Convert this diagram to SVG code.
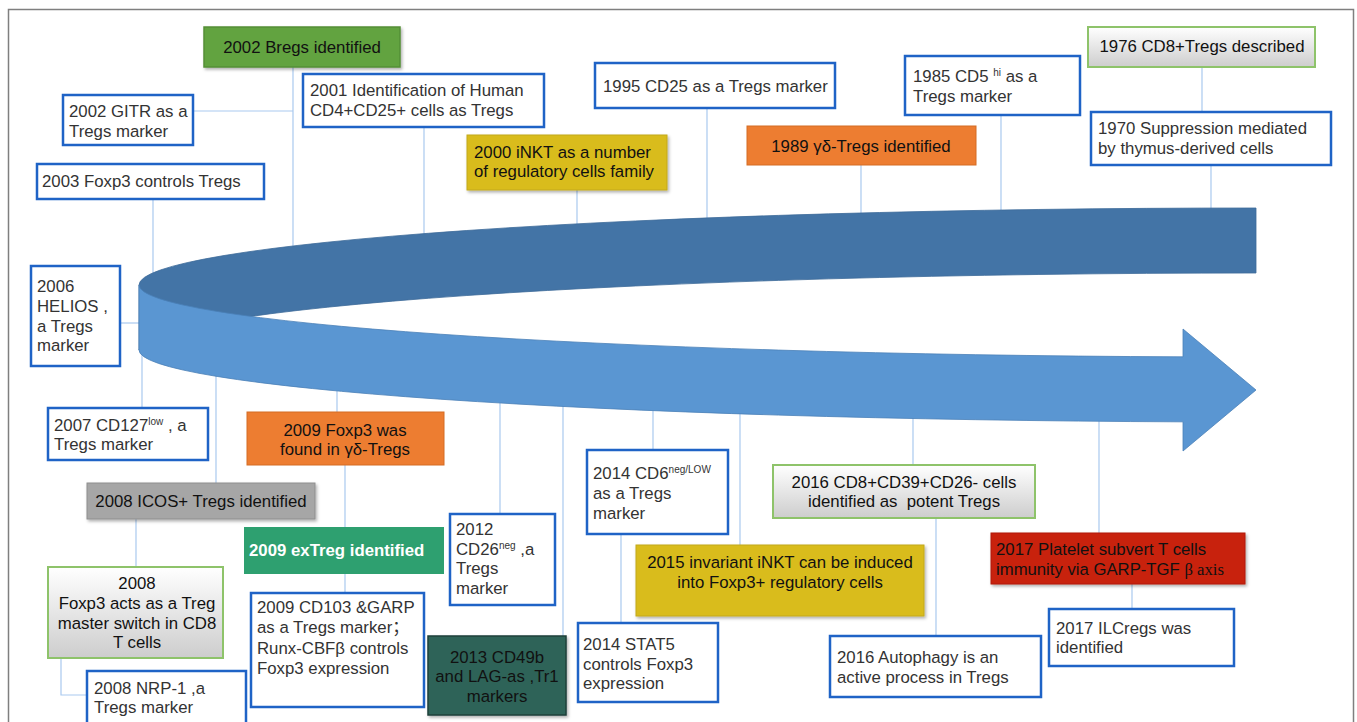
<svg xmlns="http://www.w3.org/2000/svg" width="1357" height="722" viewBox="0 0 1357 722">
<defs>
<style>
.t{font-family:"Liberation Sans",Arial,"Noto Sans CJK SC",sans-serif;font-size:16.8px;fill:#333}
.k{fill:#111}
.w{fill:#fff;font-weight:bold}
.c{text-anchor:middle}
.box{fill:#fff;stroke:#1f63c6;stroke-width:2.5}
.gbox{fill:url(#gg);stroke:#8ec36a;stroke-width:2}
.conn{stroke:#a9c9ef;stroke-width:1.2;fill:none}
.sh{filter:url(#ds)}
</style>
<linearGradient id="gg" x1="0" y1="0" x2="0" y2="1">
<stop offset="0" stop-color="#ffffff"/>
<stop offset="1" stop-color="#cdcdcd"/>
</linearGradient>
<filter id="ds" x="-10%" y="-10%" width="120%" height="130%">
<feDropShadow dx="1.5" dy="2" stdDeviation="1.5" flood-color="#000" flood-opacity="0.3"/>
</filter>
</defs>
<rect x="8.5" y="9.5" width="1345" height="730" fill="#fff" stroke="#7f7f7f" stroke-width="1.5"/>

<g id="connectors">
<path class="conn" d="M293,67 V250"/>
<path class="conn" d="M194,111 H293"/>
<path class="conn" d="M153,199 V278"/>
<path class="conn" d="M424,127 V240"/>
<path class="conn" d="M577,190 V230"/>
<path class="conn" d="M707,108 V224"/>
<path class="conn" d="M861,165 V219"/>
<path class="conn" d="M1001,116 V216"/>
<path class="conn" d="M1202,67 V112"/>
<path class="conn" d="M1211,165 V215"/>
<path class="conn" d="M120,323 H145"/>
<path class="conn" d="M142,349 V407"/>
<path class="conn" d="M216,370 V483"/>
<path class="conn" d="M136,519 V567"/>
<path class="conn" d="M61,658 V695 H87"/>
<path class="conn" d="M337,385 V412"/>
<path class="conn" d="M345,465 V527"/>
<path class="conn" d="M345,574 V592"/>
<path class="conn" d="M500,397 V513"/>
<path class="conn" d="M563,400 V636"/>
<path class="conn" d="M653,405 V449"/>
<path class="conn" d="M621,534 V622"/>
<path class="conn" d="M740,408 V545"/>
<path class="conn" d="M913,412 V465"/>
<path class="conn" d="M936,518 V636"/>
<path class="conn" d="M1099,415 V533"/>
<path class="conn" d="M1132,584 V608"/>
</g>

<g id="ribbon">
<path d="M139,285 A1117,77 0 0 1 1256,208 L1256,273 A1117,77 0 0 0 139,350 Z" fill="#4374a6" stroke="#3d6b99" stroke-width="0.8"/>
<path d="M139,285 A1117,72 0 0 0 1183,356.85 L1183,329 L1256,390 L1183,451 L1183,421.85 A1117,72 0 0 1 139,350 Z" fill="#5a96d2" stroke="#4a80b8" stroke-width="0.8"/>
</g>

<g id="n2002bregs">
<rect x="204" y="27" width="196" height="40" fill="#62a33f" stroke="#558f36" stroke-width="1.5" class="sh"/>
<text class="t k c" x="302" y="53">2002 Bregs identified</text>
</g>

<g id="n2002gitr">
<rect class="box" x="63" y="95" width="130" height="50"/>
<text class="t" x="69" y="117">2002 GITR as a</text>
<text class="t" x="69" y="137">Tregs marker</text>
</g>

<g id="n2003foxp3">
<rect class="box" x="37" y="164" width="227" height="35"/>
<text class="t" x="42" y="187">2003 Foxp3 controls Tregs</text>
</g>

<g id="n2001">
<rect class="box" x="303" y="74" width="241" height="53"/>
<text class="t" x="310" y="96">2001 Identification of Human</text>
<text class="t" x="310" y="116">CD4+CD25+ cells as Tregs</text>
</g>

<g id="n2000inkt">
<rect x="467" y="135" width="200" height="55" fill="#d9bc1f" stroke="#c2a81a" stroke-width="1" class="sh"/>
<text class="t k" x="474" y="158">2000 iNKT as a number</text>
<text class="t k" x="474" y="177">of regulatory cells family</text>
</g>

<g id="n1995">
<rect class="box" x="595" y="63" width="240" height="45"/>
<text class="t" x="603" y="92">1995 CD25 as a Tregs marker</text>
</g>

<g id="n1989">
<rect x="747" y="126" width="229" height="39" fill="#ed7d31" stroke="#d46c25" stroke-width="1"/>
<text class="t k c" x="861" y="152">1989 γδ-Tregs identified</text>
</g>

<g id="n1985">
<rect class="box" x="905" y="56" width="175" height="59"/>
<text class="t" x="913" y="82">1985 CD5 <tspan font-size="10" dy="-6">hi</tspan><tspan dy="6"> as a</tspan></text>
<text class="t" x="913" y="102">Tregs marker</text>
</g>

<g id="n1976">
<rect class="gbox" x="1088" y="27" width="227" height="40"/>
<text class="t k c" x="1202" y="52">1976 CD8+Tregs described</text>
</g>

<g id="n1970">
<rect class="box" x="1091" y="112" width="240" height="53"/>
<text class="t" x="1098" y="134">1970 Suppression mediated</text>
<text class="t" x="1098" y="154">by thymus-derived cells</text>
</g>

<g id="n2006helios">
<rect class="box" x="31" y="266" width="89" height="100"/>
<text class="t" x="37" y="292">2006</text>
<text class="t" x="37" y="312">HELIOS ,</text>
<text class="t" x="37" y="332">a Tregs</text>
<text class="t" x="37" y="351">marker</text>
</g>

<g id="n2007cd127">
<rect class="box" x="48" y="408" width="160" height="52"/>
<text class="t" x="54" y="431">2007 CD127<tspan font-size="10" dy="-6">low</tspan><tspan dy="6"> , a</tspan></text>
<text class="t" x="54" y="450">Tregs marker</text>
</g>

<g id="n2008icos">
<rect x="87" y="483" width="228" height="36" fill="#a6a6a6" stroke="#8e8e8e" stroke-width="1" class="sh"/>
<text class="t k c" x="201" y="507">2008 ICOS+ Tregs identified</text>
</g>

<g id="n2008foxp3cd8">
<rect class="gbox" x="48" y="567" width="175" height="91"/>
<text class="t k c" x="137" y="589">2008</text>
<text class="t k c" x="137" y="609">Foxp3 acts as a Treg</text>
<text class="t k c" x="137" y="629">master switch in CD8</text>
<text class="t k c" x="137" y="648">T cells</text>
</g>

<g id="n2008nrp1">
<rect class="box" x="87" y="671" width="159" height="60"/>
<text class="t" x="94" y="694">2008 NRP-1 ,a</text>
<text class="t" x="94" y="713">Tregs marker</text>
</g>

<g id="n2009foxp3gd">
<rect x="247" y="412" width="197" height="53" fill="#ed7d31" stroke="#d46c25" stroke-width="1"/>
<text class="t k c" x="345" y="436">2009 Foxp3 was</text>
<text class="t k c" x="345" y="455">found in γδ-Tregs</text>
</g>

<g id="n2009extreg">
<rect x="244" y="527" width="200" height="47" fill="#2ea070"/>
<text class="t w" x="249" y="556">2009 exTreg identified</text>
</g>

<g id="n2009cd103">
<rect class="box" x="251" y="593" width="173" height="114"/>
<text class="t" x="257" y="613">2009 CD103 &amp;GARP</text>
<text class="t" x="257" y="633">as a Tregs marker；</text>
<text class="t" x="257" y="654">Runx-CBFβ controls</text>
<text class="t" x="257" y="674">Foxp3 expression</text>
</g>

<g id="n2012cd26">
<rect class="box" x="450" y="514" width="105" height="91"/>
<text class="t" x="456" y="535">2012</text>
<text class="t" x="456" y="555">CD26<tspan font-size="10" dy="-6">neg</tspan><tspan dy="6"> ,a</tspan></text>
<text class="t" x="456" y="574">Tregs</text>
<text class="t" x="456" y="594">marker</text>
</g>

<g id="n2013cd49b">
<rect x="428" y="636" width="138" height="79" fill="#2f6459" stroke="#1e3f38" stroke-width="1.5" class="sh"/>
<text class="t k c" x="497" y="663">2013 CD49b</text>
<text class="t k c" x="497" y="682">and LAG-as ,Tr1</text>
<text class="t k c" x="497" y="702">markers</text>
</g>

<g id="n2014cd6">
<rect class="box" x="587" y="450" width="141" height="84"/>
<text class="t" x="593" y="479">2014 CD6<tspan font-size="10" dy="-6">neg/LOW</tspan></text>
<text class="t" x="593" y="499">as a Tregs</text>
<text class="t" x="593" y="519">marker</text>
</g>

<g id="n2014stat5">
<rect class="box" x="578" y="623" width="140" height="79"/>
<text class="t" x="583" y="650">2014 STAT5</text>
<text class="t" x="583" y="670">controls Foxp3</text>
<text class="t" x="583" y="689">expression</text>
</g>

<g id="n2015inkt">
<rect x="636" y="545" width="288" height="71" fill="#d9bc1f" stroke="#c2a81a" stroke-width="1" class="sh"/>
<text class="t k c" x="780" y="568">2015 invariant iNKT can be induced</text>
<text class="t k c" x="780" y="588">into Foxp3+ regulatory cells</text>
</g>

<g id="n2016cd8">
<rect class="gbox" x="773" y="465" width="262" height="53"/>
<text class="t k c" x="904" y="488">2016 CD8+CD39+CD26- cells</text>
<text class="t k c" x="904" y="507" xml:space="preserve">identified as  potent Tregs</text>
</g>

<g id="n2016autophagy">
<rect class="box" x="830" y="636" width="211" height="61"/>
<text class="t" x="837" y="663">2016 Autophagy is an</text>
<text class="t" x="837" y="683">active process in Tregs</text>
</g>

<g id="n2017platelet">
<rect x="991" y="533" width="254" height="51" fill="#c8200e" stroke="#b01a0a" stroke-width="1" class="sh"/>
<text class="t k" x="996" y="555">2017 Platelet subvert T cells</text>
<text class="t k" x="996" y="575" textLength="228" lengthAdjust="spacingAndGlyphs">immunity via GARP-TGF <tspan font-family="'Liberation Serif','Times New Roman',serif">β axis</tspan></text>
</g>

<g id="n2017ilcregs">
<rect class="box" x="1049" y="609" width="185" height="57"/>
<text class="t" x="1056" y="634">2017 ILCregs was</text>
<text class="t" x="1056" y="653">identified</text>
</g>
</svg>
